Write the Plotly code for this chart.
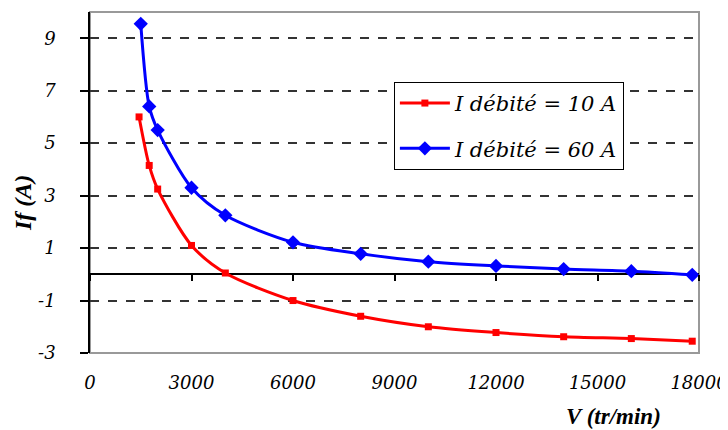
import plotly.graph_objects as go

# Data
v_10 = [1450, 1750, 2000, 3000, 4000, 6000, 8000, 10000, 12000, 14000, 16000, 17800]
if_10 = [6.0, 4.15, 3.25, 1.1, 0.05, -1.0, -1.6, -2.0, -2.22, -2.38, -2.45, -2.55]

v_60 = [1500, 1750, 2000, 3000, 4000, 6000, 8000, 10000, 12000, 14000, 16000, 17800]
if_60 = [9.55, 6.4, 5.5, 3.3, 2.25, 1.22, 0.78, 0.48, 0.32, 0.2, 0.12, -0.02]

x_ticks = [0, 3000, 6000, 9000, 12000, 15000, 18000]
y_ticks = [-3, -1, 1, 3, 5, 7, 9]
y_ticktext = ["-3", "-1", "1", "3", "5", "7", "9"]

FONT = "DejaVu Serif"

fig = go.Figure()
fig.add_trace(go.Scatter(
    x=v_10, y=if_10, mode="lines+markers", name="<i>I débité = 10 A</i>",
    legendgroup="a",
    line=dict(color="#ff0000", width=3, shape="spline", smoothing=0.8),
    marker=dict(symbol="square", size=7, color="#ff0000"),
))
fig.add_trace(go.Scatter(
    x=v_60, y=if_60, mode="lines+markers", name="<i>I débité = 60 A</i>",
    legendgroup="b",
    line=dict(color="#0000ff", width=3, shape="spline", smoothing=0.8),
    marker=dict(symbol="diamond", size=11, color="#0000ff"),
))

# page body has an 8px default margin, so the figure is offset by 8px
fig.update_layout(
    width=728, height=430,
    margin=dict(l=82, r=37, t=4, b=85),
    paper_bgcolor="white", plot_bgcolor="white",
    font=dict(family=FONT, color="black"),
    showlegend=True,
    legend=dict(
        x=0.499, y=0.795, xanchor="left", yanchor="top",
        bgcolor="white", bordercolor="black", borderwidth=1,
        font=dict(family=FONT, size=21, color="black"),
        itemwidth=50, tracegroupgap=15,
    ),
    xaxis=dict(
        range=[0, 18000], tickvals=x_ticks,
        ticktext=["<i>%d</i>" % t for t in x_ticks],
        showgrid=False, zeroline=False, showline=False,
        ticks="", tickfont=dict(family=FONT, size=18, color="black"),
        ticklabelstandoff=17, automargin=False,
    ),
    xaxis2=dict(
        range=[0, 18000], overlaying="x", anchor="free", position=3 / 13,
        tickvals=x_ticks, showticklabels=False, showgrid=False,
        zeroline=False, showline=False, ticks="outside", ticklen=6,
        tickcolor="black", tickwidth=1.5, automargin=False,
    ),
    yaxis=dict(
        range=[-3, 10], tickvals=y_ticks,
        ticktext=["<i>%s</i>" % t for t in y_ticktext],
        showgrid=True, gridcolor="#333333", griddash="dash", gridwidth=1.5,
        zeroline=True, zerolinecolor="black", zerolinewidth=1.5,
        showline=True, linecolor="black", linewidth=1.5,
        ticks="outside", ticklen=8, tickcolor="black", tickwidth=1.5,
        tickfont=dict(family=FONT, size=18, color="black"),
        ticklabelstandoff=21, automargin=False,
    ),
    shapes=[dict(type="rect", xref="paper", yref="paper", x0=0, y0=0, x1=1, y1=1,
                 line=dict(color="#999999", width=2), layer="below")],
    annotations=[
        dict(text="<b><i>V (tr/min)</i></b>", xref="paper", yref="paper",
             x=0.86, y=-0.185, xanchor="center", yanchor="middle", showarrow=False,
             font=dict(family="Liberation Serif", size=23, color="black")),
        dict(text="<b><i>If (A)</i></b>", xref="paper", yref="paper",
             x=-0.11, y=0.44, xanchor="center", yanchor="middle", showarrow=False,
             textangle=-90, font=dict(family="Liberation Serif", size=24, color="black")),
    ],
)
# invisible trace so the zero-line tick axis is drawn
fig.add_trace(go.Scatter(x=[0], y=[0], xaxis="x2", mode="markers",
                         marker=dict(opacity=0), showlegend=False, hoverinfo="skip"))

fig.write_html("out.html")
